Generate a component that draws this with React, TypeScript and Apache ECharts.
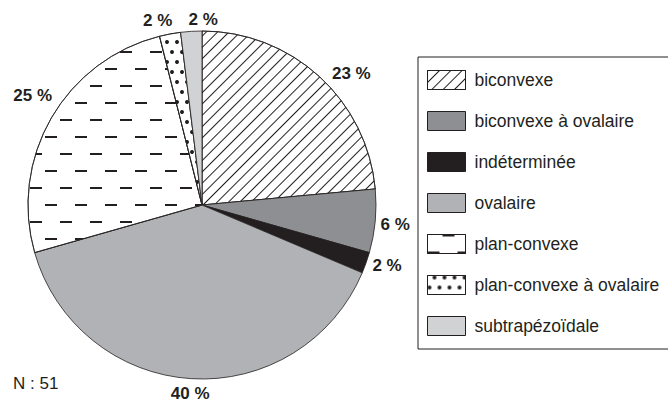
import React, { useEffect, useRef } from "react";
import * as echarts from "echarts";

const categories = [
  "biconvexe",
  "biconvexe à ovalaire",
  "indéterminée",
  "ovalaire",
  "plan-convexe",
  "plan-convexe à ovalaire",
  "subtrapézoïdale",
];
const counts = [12, 3, 1, 20, 13, 1, 1];
const percentLabels = ["23 %", "6 %", "2 %", "40 %", "25 %", "2 %", "2 %"];
const totalLabel = "N : 51";

const INK = "#231f20";
const FONT = "Liberation Sans, Arial, sans-serif";

// small hand-tuned label nudges (styling only)
const labelNudge: [number, number][] = [
  [15, 10],
  [-3, 2],
  [-1, -3],
  [5, -3],
  [2, -14],
  [-4, 4],
  [18, 6],
];

const styles: any[] = [
  {
    color: "#ffffff",
    decal: {
      symbol: "rect",
      symbolSize: 1,
      color: INK,
      dashArrayX: [1, 0],
      dashArrayY: [0.9, 6.3],
      rotation: -Math.PI / 4,
    },
  },
  { color: "#8e8f93" },
  { color: INK },
  { color: "#b1b2b5" },
  {
    color: "#ffffff",
    decal: {
      symbol: "rect",
      symbolSize: 1,
      color: INK,
      dashArrayX: [
        [12, 18],
        [0, 15, 12, 3],
      ],
      dashArrayY: [1.2, 14.3],
      rotation: 0,
    },
  },
  {
    color: "#ffffff",
    decal: {
      symbol: "circle",
      symbolSize: 1,
      color: INK,
      dashArrayX: [
        [3.6, 5.4],
        [0, 4.5, 3.6, 0.9],
      ],
      dashArrayY: [3.6, 5.4],
      rotation: 0,
    },
  },
  { color: "#d1d2d4" },
];

export default function App() {
  const ref = useRef<HTMLDivElement>(null);
  useEffect(() => {
    document.body.style.margin = "0";
    if (!ref.current) return;
    const chart = echarts.init(ref.current, null, { renderer: "svg" });
    const data = categories.map((name, i) => ({
      name,
      value: counts[i],
      itemStyle: { ...styles[i], borderColor: INK, borderWidth: 0.8 },
      label: { formatter: percentLabels[i] },
    }));
    chart.setOption({
      animation: false,
      backgroundColor: "#ffffff",
      textStyle: { fontFamily: FONT },
      title: {
        text: totalLabel,
        left: 13,
        top: 375,
        padding: 0,
        textStyle: {
          fontSize: 17,
          fontWeight: "normal",
          color: INK,
          fontFamily: FONT,
        },
      },
      legend: {
        orient: "vertical",
        left: 418,
        top: 57,
        itemWidth: 38,
        itemHeight: 19,
        itemGap: 21,
        padding: [13, 30, 13, 9],
        borderColor: INK,
        borderWidth: 1,
        icon: "rect",
        selectedMode: false,
        itemStyle: { borderColor: INK, borderWidth: 1 },
        textStyle: {
          fontSize: 17.5,
          color: INK,
          padding: [0, 0, 0, 4],
          fontFamily: FONT,
        },
        data: categories,
      },
      series: [
        {
          type: "pie",
          center: [202, 205],
          radius: 174,
          startAngle: 90,
          clockwise: true,
          avoidLabelOverlap: false,
          label: {
            show: true,
            position: "outside",
            fontSize: 17,
            fontWeight: "bold",
            color: INK,
            overflow: "none",
            fontFamily: FONT,
          },
          labelLine: { show: false, length: 18, length2: 0 },
          labelLayout: (params: any) => {
            const n = labelNudge[params.dataIndex] || [0, 0];
            return { align: "center", verticalAlign: "middle", dx: n[0], dy: n[1] };
          },
          emphasis: { disabled: true },
          data,
        },
      ],
    });
    return () => chart.dispose();
  }, []);
  return <div ref={ref} style={{ width: 668, height: 403 }} />;
}
